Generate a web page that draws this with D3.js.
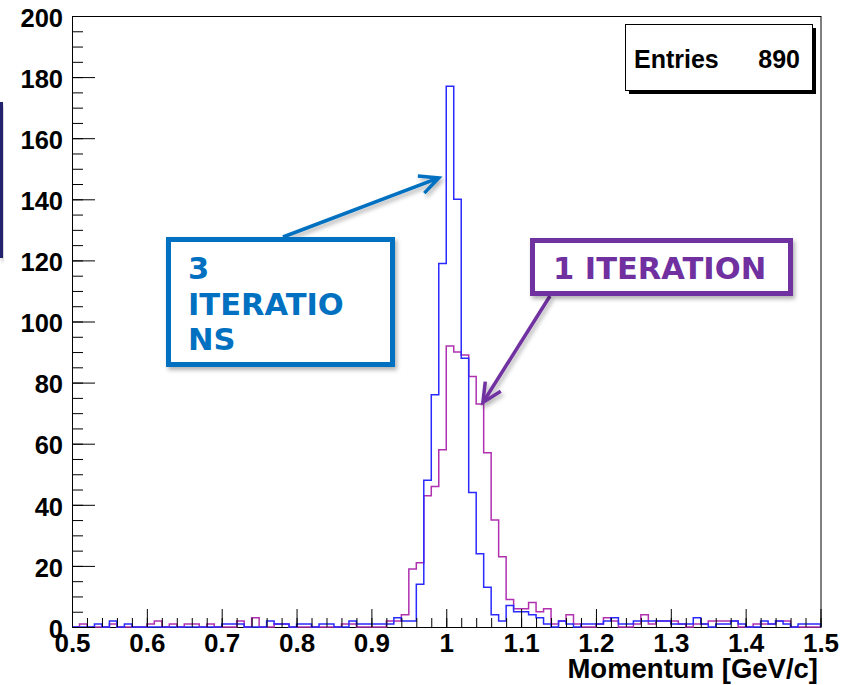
<!DOCTYPE html>
<html>
<head>
<meta charset="utf-8">
<script src="https://cdn.jsdelivr.net/npm/d3@7"></script>
<style>
  body { margin: 0; background: #fff; }
  svg { display: block; }
  .tick text { font-family: "Liberation Sans", Arial, sans-serif; font-weight: bold; fill: #000; }
</style>
</head>
<body>
<script>
// momentum histograms, 100 bins of 0.01 GeV/c from 0.5 to 1.5
var binLow = 0.5;
var binWidth = 0.01;

var oneIteration = [
  0, 1, 0, 0, 0, 1, 0, 0, 0, 0,
  1, 2, 0, 1, 0, 1, 1, 0, 1, 0,
  0, 0, 2, 0, 3, 0, 0, 1, 1, 0,
  0, 0, 0, 0, 0, 0, 1, 1, 0, 0,
  0, 0, 2, 2, 4, 19, 21, 43, 46, 58,
  92, 90, 89, 82, 73, 57, 35, 23, 9, 6,
  6, 8, 5, 6, 1, 2, 4, 1, 0, 0,
  1, 3, 2, 0, 0, 1, 4, 1, 2, 2,
  2, 1, 0, 1, 1, 2, 2, 2, 2, 0,
  0, 1, 1, 1, 2, 2, 0, 0, 0, 0
];

var threeIterations = [
  0, 0, 0, 1, 0, 2, 0, 1, 0, 0,
  0, 0, 0, 0, 0, 0, 0, 0, 0, 0,
  1, 1, 1, 0, 0, 0, 2, 1, 1, 0,
  1, 1, 0, 1, 1, 0, 0, 2, 1, 1,
  1, 1, 1, 3, 2, 2, 14, 48, 76, 119,
  177, 140, 88, 44, 24, 13, 4, 2, 7, 5,
  5, 4, 3, 1, 0, 2, 1, 0, 1, 1,
  1, 2, 3, 1, 1, 2, 2, 2, 2, 2,
  1, 1, 1, 3, 1, 0, 1, 1, 2, 1,
  0, 0, 2, 1, 2, 1, 0, 1, 1, 1
];

var xMajorTicks = [0.5, 0.6, 0.7, 0.8, 0.9, 1, 1.1, 1.2, 1.3, 1.4, 1.5];
var xTickLabels = ['0.5', '0.6', '0.7', '0.8', '0.9', '1', '1.1', '1.2', '1.3', '1.4', '1.5'];
var yMajorTicks = [0, 20, 40, 60, 80, 100, 120, 140, 160, 180, 200];
var entries = 890;

var W = 848, H = 685;
var padL = 72, padT = 16, padR = 820.5, padB = 627;

var svg = d3.select('body').append('svg')
  .attr('width', W)
  .attr('height', H);

var defs = svg.append('defs');
var shadow = defs.append('filter').attr('id', 'shadow')
  .attr('x', '-20%').attr('y', '-20%').attr('width', '140%').attr('height', '140%');
shadow.append('feDropShadow')
  .attr('dx', 2).attr('dy', 3).attr('stdDeviation', 2)
  .attr('flood-color', '#000').attr('flood-opacity', 0.3);

var x = d3.scaleLinear().domain([0.5, 1.5]).range([padL, padR]);
var y = d3.scaleLinear().domain([0, 200]).range([padB, padT]);

// slide leftover on the very left
svg.append('rect')
  .attr('x', 0).attr('y', 102).attr('width', 3).attr('height', 156)
  .style('fill', '#24246e')
  .attr('filter', 'url(#shadow)');

// frame
svg.append('rect')
  .attr('x', padL + 0.5).attr('y', padT + 0.5)
  .attr('width', padR - padL).attr('height', padB - padT)
  .style('fill', 'none').style('stroke', '#000').style('stroke-width', 1);

function stepPoints(counts) {
  var pts = [[binLow, 0]];
  counts.forEach(function (v, i) {
    var lo = binLow + i * binWidth;
    pts.push([lo, v]);
    pts.push([lo + binWidth, v]);
  });
  pts.push([binLow + counts.length * binWidth, 0]);
  return pts;
}

var line = d3.line()
  .x(function (d) { return x(d[0]); })
  .y(function (d) { return y(d[1]); });

svg.append('path')
  .datum(stepPoints(oneIteration))
  .attr('d', line)
  .style('fill', 'none').style('stroke', '#b030b0').style('stroke-width', 1.5);

svg.append('path')
  .datum(stepPoints(threeIterations))
  .attr('d', line)
  .style('fill', 'none').style('stroke', '#2a2aff').style('stroke-width', 1.5);

// x axis ticks (inside the frame)
var xMinor = d3.range(0, 51).map(function (i) { return 0.5 + i * 0.02; });
svg.append('g')
  .attr('transform', 'translate(0,' + padB + ')')
  .call(d3.axisBottom(x).tickValues(xMinor).tickSize(-9).tickFormat(''))
  .call(function (g) { g.select('.domain').remove(); });

svg.append('g')
  .attr('transform', 'translate(0,' + padB + ')')
  .call(d3.axisBottom(x).tickValues(xMajorTicks).tickSize(-18).tickPadding(7)
    .tickFormat(function (d, i) { return xTickLabels[i]; }))
  .call(function (g) {
    g.select('.domain').remove();
    g.selectAll('text').style('font-size', '26px');
  });

// y axis ticks
var yMinor = d3.range(0, 41).map(function (i) { return i * 5; });
svg.append('g')
  .attr('transform', 'translate(' + padL + ',0)')
  .call(d3.axisLeft(y).tickValues(yMinor).tickSize(-11).tickFormat(''))
  .call(function (g) { g.select('.domain').remove(); });

svg.append('g')
  .attr('transform', 'translate(' + padL + ',0)')
  .call(d3.axisLeft(y).tickValues(yMajorTicks).tickSize(-23).tickPadding(9))
  .call(function (g) {
    g.select('.domain').remove();
    g.selectAll('text').style('font-size', '25.5px').attr('dy', '0.4em');
  });

svg.selectAll('.tick line').style('stroke', '#000').style('stroke-width', 1);

svg.append('text')
  .attr('x', 818).attr('y', 678)
  .attr('text-anchor', 'end')
  .style('font-family', '"Liberation Sans", Arial, sans-serif')
  .style('font-weight', 'bold')
  .style('font-size', '27.5px')
  .text('Momentum [GeV/c]');

// stats box
svg.append('rect')
  .attr('x', 629).attr('y', 28).attr('width', 187).attr('height', 66)
  .style('fill', '#000');
svg.append('rect')
  .attr('x', 625.5).attr('y', 24.5).attr('width', 187).attr('height', 66)
  .style('fill', '#fff').style('stroke', '#000').style('stroke-width', 1);
svg.append('text')
  .attr('x', 634).attr('y', 68)
  .style('font-family', '"Liberation Sans", Arial, sans-serif')
  .style('font-weight', 'bold').style('font-size', '25px')
  .text('Entries');
svg.append('text')
  .attr('x', 800).attr('y', 68)
  .attr('text-anchor', 'end')
  .style('font-family', '"Liberation Sans", Arial, sans-serif')
  .style('font-weight', 'bold').style('font-size', '25px')
  .text(entries);

// annotations
function arrow(x1, y1, x2, y2, color) {
  var g = svg.append('g').attr('filter', 'url(#shadow)');
  var a = Math.atan2(y2 - y1, x2 - x1);
  var len = 21, spread = 0.45;
  g.append('line')
    .attr('x1', x1).attr('y1', y1).attr('x2', x2).attr('y2', y2)
    .style('stroke', color).style('stroke-width', 3.5);
  g.append('path')
    .attr('d', 'M' + (x2 - len * Math.cos(a - spread)) + ',' + (y2 - len * Math.sin(a - spread)) +
      'L' + x2 + ',' + y2 +
      'L' + (x2 - len * Math.cos(a + spread)) + ',' + (y2 - len * Math.sin(a + spread)))
    .style('fill', 'none').style('stroke', color).style('stroke-width', 3.5)
    .style('stroke-linejoin', 'miter');
}

var blueNote = '#0070c0';
var purpleNote = '#7030a0';

arrow(283, 237, x(0.99), y(147), blueNote);
arrow(550, 296, x(1.049), y(73.5), purpleNote);

svg.append('rect')
  .attr('x', 168.5).attr('y', 239.5).attr('width', 224).attr('height', 125)
  .style('fill', '#fff').style('stroke', blueNote).style('stroke-width', 5)
  .attr('filter', 'url(#shadow)');

var blueText = svg.append('text')
  .style('font-family', '"DejaVu Sans", Verdana, sans-serif')
  .style('font-weight', 'bold').style('font-size', '30.5px')
  .style('fill', blueNote);
[['3', 279], ['ITERATIO', 315], ['NS', 350]].forEach(function (d) {
  blueText.append('tspan').attr('x', 188).attr('y', d[1]).text(d[0]);
});

svg.append('rect')
  .attr('x', 532.5).attr('y', 240.5).attr('width', 258).attr('height', 53)
  .style('fill', '#fff').style('stroke', purpleNote).style('stroke-width', 5)
  .attr('filter', 'url(#shadow)');

svg.append('text')
  .attr('x', 553).attr('y', 279)
  .style('font-family', '"DejaVu Sans", Verdana, sans-serif')
  .style('font-weight', 'bold').style('font-size', '30.5px')
  .style('fill', purpleNote)
  .text('1 ITERATION');
</script>
</body>
</html>
